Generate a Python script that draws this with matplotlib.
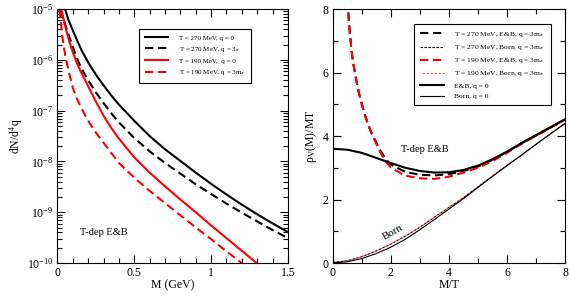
import numpy as np
import matplotlib
matplotlib.use("Agg")
import matplotlib.pyplot as plt
from matplotlib.ticker import MultipleLocator, LogLocator, NullFormatter

plt.rcParams['font.family'] = ['Liberation Serif', 'DejaVu Serif']
plt.rcParams['mathtext.fontset'] = 'stix'

# ---- left panel: dN/d^4q vs M (GeV), log10 of rate ----
M_b0 = [0.05, 0.07, 0.1, 0.13, 0.16, 0.2, 0.25, 0.3, 0.35, 0.4, 0.5, 0.6, 0.7, 0.8, 0.9, 1.0, 1.1, 1.2, 1.3, 1.4, 1.5]
L_b0 = [-5.0, -5.2, -5.42, -5.63, -5.83, -6.05, -6.29, -6.5, -6.7, -6.88, -7.2, -7.5, -7.76, -7.99, -8.22, -8.44, -8.65, -8.85, -9.04, -9.22, -9.39]

M_b3 = [0.02, 0.035, 0.05, 0.075, 0.1, 0.125, 0.15, 0.175, 0.2, 0.25, 0.3, 0.35, 0.4, 0.5, 0.6, 0.7, 0.8, 0.9, 1.0, 1.1, 1.2, 1.3, 1.4, 1.5]
L_b3 = [-5.0, -5.17, -5.3, -5.53, -5.74, -5.95, -6.13, -6.27, -6.4, -6.64, -6.85, -7.05, -7.23, -7.54, -7.8, -8.03, -8.24, -8.45, -8.64, -8.83, -9.01, -9.18, -9.35, -9.51]

M_r0 = [0.025, 0.04, 0.06, 0.08, 0.1, 0.125, 0.15, 0.2, 0.25, 0.3, 0.35, 0.4, 0.5, 0.6, 0.7, 0.8, 0.9, 1.0, 1.1, 1.2, 1.3, 1.35]
L_r0 = [-5.0, -5.2, -5.45, -5.66, -5.85, -6.05, -6.22, -6.52, -6.82, -7.1, -7.34, -7.55, -7.92, -8.22, -8.49, -8.75, -9.0, -9.26, -9.51, -9.76, -10.01, -10.13]

M_r3 = [0.013, 0.02, 0.03, 0.04, 0.05, 0.075, 0.1, 0.125, 0.15, 0.2, 0.25, 0.3, 0.4, 0.5, 0.6, 0.7, 0.8, 0.9, 1.0, 1.1, 1.2, 1.25]
L_r3 = [-5.0, -5.2, -5.5, -5.72, -5.9, -6.25, -6.55, -6.75, -6.92, -7.2, -7.43, -7.63, -8.03, -8.32, -8.58, -8.82, -9.06, -9.3, -9.53, -9.77, -10.0, -10.12]

# ---- right panel: rho_V(M)/MT vs M/T ----
x_eb0 = [0, 0.5, 1, 1.5, 2, 2.5, 3, 3.5, 4, 4.5, 5, 5.5, 6, 6.5, 7, 7.5, 8]
y_eb0 = [3.6, 3.57, 3.47, 3.31, 3.15, 3.0, 2.9, 2.85, 2.86, 2.93, 3.07, 3.27, 3.51, 3.78, 4.03, 4.28, 4.53]

x_eb3 = [0.5, 0.55, 0.6, 0.65, 0.7, 0.8, 0.9, 1.0, 1.1, 1.2, 1.3, 1.4, 1.6, 1.8, 2.0, 2.5, 3.0, 3.5, 4.0, 4.5, 5.0, 5.5, 6.0, 6.5, 7, 7.5, 8]
y_eb3_270 = [8.3, 7.65, 7.1, 6.65, 6.3, 5.8, 5.35, 5.0, 4.68, 4.4, 4.17, 3.98, 3.6, 3.3, 3.1, 2.87, 2.78, 2.76, 2.8, 2.9, 3.04, 3.25, 3.5, 3.77, 4.02, 4.27, 4.52]
y_eb3_190 = [8.3, 7.65, 7.1, 6.65, 6.3, 5.8, 5.35, 5.0, 4.68, 4.4, 4.15, 3.95, 3.55, 3.22, 3.0, 2.75, 2.67, 2.65, 2.72, 2.85, 3.0, 3.21, 3.47, 3.75, 4.01, 4.26, 4.52]

x_born = [0, 0.5, 1, 1.5, 2, 2.5, 3, 3.5, 4, 4.5, 5, 5.5, 6, 6.5, 7, 7.5, 8]
y_born0 = [0, 0.04, 0.14, 0.3, 0.5, 0.75, 1.05, 1.37, 1.7, 2.03, 2.38, 2.73, 3.07, 3.4, 3.74, 4.07, 4.4]
y_born3 = [0.02, 0.07, 0.2, 0.38, 0.6, 0.85, 1.13, 1.44, 1.75, 2.06, 2.4, 2.74, 3.07, 3.4, 3.74, 4.07, 4.4]

fig = plt.figure(figsize=(5.69, 2.98), dpi=100)
ax1 = fig.add_axes([0.101, 0.1174, 0.405, 0.852])
ax2 = fig.add_axes([0.585, 0.1174, 0.408, 0.852])

thick = 1.5
thin = 0.8
dash_l = (0, (4, 2.2))
dash_s = (0, (2.2, 1.4))

ax1.semilogy(M_b0, 10.0 ** np.array(L_b0), color='black', lw=thick, label='T = 270 MeV, q = 0')
ax1.semilogy(M_b3, 10.0 ** np.array(L_b3), color='black', lw=thick, ls=dash_l, label='T = 270 MeV, q = 3$_\\pi$')
ax1.semilogy(M_r0, 10.0 ** np.array(L_r0), color='red', lw=thick, label='T = 190 MeV,  q = 0')
ax1.semilogy(M_r3, 10.0 ** np.array(L_r3), color='red', lw=thick, ls=dash_l, label='T = 190 MeV, q = 3m$_\\pi$')

ax1.set_xlim(0, 1.5)
ax1.set_ylim(1e-10, 1e-5)
ax1.xaxis.set_minor_locator(MultipleLocator(0.1))
ax1.set_xticks([0, 0.5, 1, 1.5])
ax1.set_xticklabels(['0', '0.5', '1', '1.5'])
ax1.yaxis.set_major_locator(LogLocator(base=10, numticks=10))
ax1.yaxis.set_minor_locator(LogLocator(base=10, subs=np.arange(2, 10), numticks=10))
ax1.yaxis.set_minor_formatter(NullFormatter())
ax1.set_xlabel('M (GeV)', fontsize=8.5, labelpad=0)
ax1.set_ylabel('dN/d$^4$q', fontsize=8.5, labelpad=1)
ax1.text(0.097, 0.12, 'T-dep E&B', transform=ax1.transAxes, fontsize=7.5, va='center', ha='left')
leg1 = ax1.legend(loc='upper left', bbox_to_anchor=(0.354, 0.921), borderaxespad=0, fontsize=5.0,
                  fancybox=False, edgecolor='black', framealpha=1, handlelength=3.4, labelspacing=0.6,
                  borderpad=0.8, handletextpad=1.5)
leg1.get_frame().set_linewidth(0.8)

ax2.plot(x_eb3, y_eb3_270, color='black', lw=thick, ls=dash_l, label='T = 270 MeV, E&B, q = 3m$_\\pi$')
ax2.plot(x_born, y_born3, color='black', lw=thin, ls=dash_s, label='T = 270 MeV, Born, q = 3m$_\\pi$')
ax2.plot(x_eb3, y_eb3_190, color='red', lw=thick, ls=dash_l, label='T = 190 MeV, E&B, q = 3m$_\\pi$')
ax2.plot(x_born, y_born3, color='#ff5a5a', lw=thin, ls=(1.8, (2.2, 1.4)), label='T = 190 MeV, Born, q = 3m$_\\pi$')
ax2.plot(x_eb0, y_eb0, color='black', lw=thick, label='E&B, q = 0')
ax2.plot(x_born, y_born0, color='black', lw=thin, label='Born, q = 0')

ax2.set_xlim(0, 8)
ax2.set_ylim(0, 8)
ax2.xaxis.set_major_locator(MultipleLocator(2))
ax2.xaxis.set_minor_locator(MultipleLocator(1))
ax2.yaxis.set_major_locator(MultipleLocator(2))
ax2.yaxis.set_minor_locator(MultipleLocator(1))
ax2.set_xlabel('M/T', fontsize=8.5, labelpad=0)
ax2.set_ylabel('ρ$_{\\rm V}$(M)/MT', fontsize=8.5, labelpad=3)
ax2.text(2.35, 3.58, 'T-dep E&B', fontsize=7.5, va='center', ha='left')
ax2.text(2.07, 0.98, 'Born', fontsize=7.8, va='center', ha='center', rotation=30)
leg2 = ax2.legend(loc='upper left', bbox_to_anchor=(0.349, 0.941), borderaxespad=0, fontsize=5.4,
                  fancybox=False, edgecolor='black', framealpha=1, handlelength=3.2, labelspacing=0.55,
                  borderpad=0.8, handletextpad=1.4)
leg2.get_frame().set_linewidth(0.8)

for ax in (ax1, ax2):
    ax.tick_params(which='both', direction='in', top=True, right=True, labelsize=8.5, width=0.8, pad=3)
    ax.tick_params(which='major', length=6)
    ax.tick_params(which='minor', length=3.5)
    for s in ax.spines.values():
        s.set_linewidth(0.8)

fig.savefig('out.png', dpi=100)
